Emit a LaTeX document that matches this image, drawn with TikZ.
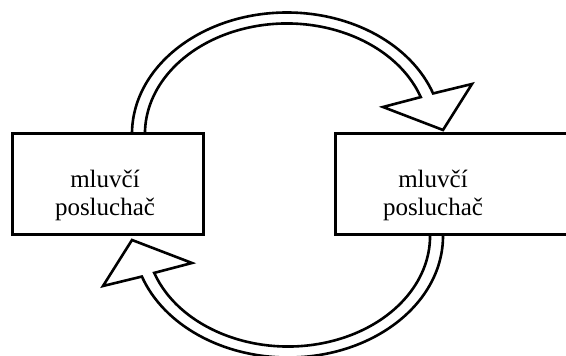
\documentclass[tikz,border=0pt]{standalone}
\usepackage{fontspec}
\setmainfont{Liberation Serif}
\begin{document}
\begin{tikzpicture}[x=1pt,y=1pt]
\tikzset{
  box/.style={draw,line width=3pt,minimum width=191pt,minimum height=101pt,inner sep=0pt},
  lbl/.style={font=\fontsize{25}{27.5}\selectfont,align=center,inner sep=0pt},
  bigarrow/.style={draw,fill=white,line width=2.6pt,line join=miter}
}
\useasboundingbox (0,0) rectangle (566,356);
\clip (0,0) rectangle (566,356);
\def\arrowshape{(132,222) arc[start angle=180,end angle=19.5,x radius=155,y radius=121.5] -- (472,272) -- (443,226) -- (383,249) -- (420.8,258.9) arc[start angle=19.5,end angle=180,x radius=142,y radius=110.5]}
\path[bigarrow] \arrowshape;
\begin{scope}[rotate around={180:(287.5,171)}]
\path[bigarrow] \arrowshape;
\end{scope}
\node[box] (L) at (107.5,171.5) {};
\node[box,minimum width=245pt] (R) at (457.5,171.5) {};
\node[lbl] (Lt) at (105,160.3) {mluvčí\\posluchač};
\node[lbl] (Rt) at (433,160.3) {mluvčí\\posluchač};
\end{tikzpicture}
\end{document}
